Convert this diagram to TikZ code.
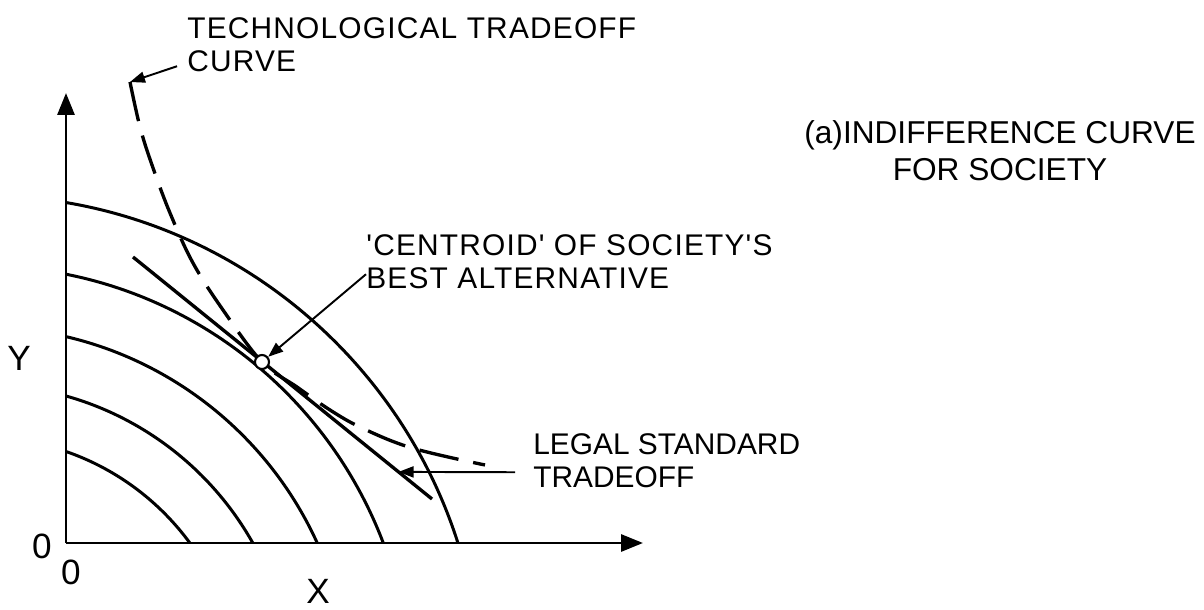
\documentclass[tikz,border=0pt]{standalone}
\usepackage{fontspec}
\setmainfont{Liberation Sans}
\newfontfamily\widefont[LetterSpace=4]{Liberation Sans}
\usetikzlibrary{arrows.meta,calc,positioning}

\begin{document}
\begin{tikzpicture}[
    axis/.style={line width=1.7pt, -{Triangle[length=4.4mm,width=3.4mm]}},
    indiff/.style={line width=1.7pt},
    pointer/.style={line width=1.1pt, -{Triangle[length=3mm,width=2.2mm]}},
    lbl/.style={font=\fontsize{17}{19}\selectfont, align=left, inner sep=0pt, anchor=north west},
    axlbl/.style={font=\fontsize{20}{22}\selectfont, inner sep=0pt}
]
    \useasboundingbox (-1.32,-1.32) rectangle (22.76,10.86);

    % indifference curves for society
    \begin{scope}
        \clip (0,0) rectangle (10,9);
        \foreach \r in {5.15, 6.21, 7.36, 8.58, 9.99} {
            \draw[indiff] (-1.68,-3.04) circle (\r);
        }
    \end{scope}

    \draw[axis] (0,0) -- (11.54,0);
    \draw[axis] (0,0) -- (0,9.0);

    \node[axlbl] (ylbl) at (-0.94,3.70) {Y};
    \node[axlbl] (xlbl) at (5.04,-0.96) {X};
    \node[axlbl] (zeroy) at (-0.48,-0.06) {0};
    \node[axlbl] (zerox) at (0.10,-0.58) {0};

    % legal standard tradeoff
    \coordinate (legA) at (1.34,5.72);
    \coordinate (legB) at (7.32,0.88);
    \draw[line width=1.9pt] (legA) -- (legB);
    \path (legA) -- (legB) coordinate[pos=0.888] (legtip);

    % technological tradeoff curve
    \coordinate (techtip) at (1.28,9.22);
    \draw[line width=1.9pt, dash pattern=on 0.8cm off 0.3cm]
        plot[smooth, tension=0.6] coordinates {(techtip) (1.48,8.32) (1.72,7.56) (2.08,6.60)
        (2.54,5.60) (3.14,4.66) (3.92,3.62) (4.62,3.12) (5.28,2.66) (5.92,2.30)
        (6.92,1.90) (8.38,1.56)};

    \node[circle, draw, fill=white, line width=1.2pt, minimum size=0.28cm, inner sep=0pt] (centroid) at (3.92,3.62) {};

    % labels
    \node[lbl, font=\widefont\fontsize{17}{19}\selectfont] (techlbl) at (2.42,10.52) {TECHNOLOGICAL TRADEOFF\\CURVE};
    \node[lbl, font=\widefont\fontsize{17}{19}\selectfont] (cenlbl) at (6.00,6.18) {'CENTROID' OF SOCIETY'S\\BEST ALTERNATIVE};
    \node[lbl] (legallbl) at (9.34,2.20) {LEGAL STANDARD\\TRADEOFF};
    \node[lbl, align=center, anchor=north, font=\fontsize{18}{21}\selectfont] (titlelbl) at (18.68,8.46) {(a)INDIFFERENCE CURVE\\FOR SOCIETY};

    \draw[pointer] ($(techlbl.south west)+(-0.2,0.12)$) -- (techtip);
    \draw[pointer] ($(cenlbl.south west)+(0,0.3)$) -- (centroid);
    \draw[pointer] ($(legallbl.south west)+(-0.36,0.32)$) -- (legtip);
\end{tikzpicture}
\end{document}
